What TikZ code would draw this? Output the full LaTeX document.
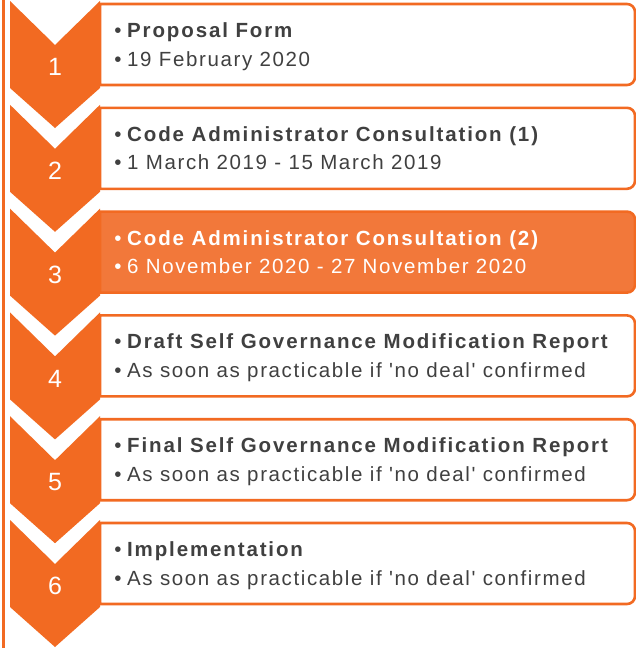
\documentclass[tikz,border=0pt]{standalone}
\usepackage{fontspec}
\setmainfont{Liberation Sans}
\newfontfamily\regfont[LetterSpace=7.9]{Liberation Sans}
\newfontfamily\boldfont[LetterSpace=9.1]{Liberation Sans Bold}
\definecolor{orng}{HTML}{F26A22}
\definecolor{orngl}{HTML}{F2783A}
\definecolor{txt}{HTML}{404040}
\tikzset{
  chev/.style={fill=orng, draw=none},
  stepbox/.style={draw=orng, line width=2.6pt, fill=white},
  stepboxhi/.style={draw=orng, line width=2.6pt, fill=orngl},
  num/.style={text=white, font=\fontsize{25}{28}\selectfont, inner sep=0pt},
  bul/.style={font=\fontsize{20.5}{24}\selectfont, inner sep=0pt, anchor=base},
  line1/.style={font=\fontsize{20.5}{24}\boldfont, inner sep=0pt, anchor=base west},
  line2/.style={font=\fontsize{20.5}{24}\regfont, inner sep=0pt, anchor=base west},
}
\newcommand{\q}{{\char"27}}
\newcommand{\mystep}[6]{%
  % #1 top y, #2 number, #3 line1, #4 line2, #5 box style, #6 text colour
  \path[chev] (10,#1) -- (55,#1+44) -- (100,#1) -- (100,#1+87) -- (55,#1+127) -- (10,#1+87) -- cycle;
  \path[#5] (100,#1+3) -- (627,#1+3) [rounded corners=8pt] -- (635,#1+3) -- (635,#1+84) [sharp corners] -- (627,#1+84) -- (100,#1+84) -- cycle;
  \node[num] (n#2) at (55,#1+66) {#2};
  \node[bul, text=#6] (b#2a) at (118,#1+36.5) {\textbullet};
  \node[line1, text=#6] (t#2a) at (127,#1+36.5) {#3};
  \node[bul, text=#6] (b#2b) at (118,#1+65) {\textbullet};
  \node[line2, text=#6] (t#2b) at (127,#1+65) {#4};
}
\begin{document}
\begin{tikzpicture}[x=1pt, y=-1pt]
\useasboundingbox (0,0) rectangle (636,648);
\fill[white] (0,0) rectangle (636,648);
\fill[orng] (1.7,0) rectangle (5,648);
\mystep{1}{1}{Proposal Form}{19 February 2020}{stepbox}{txt}
\mystep{104.8}{2}{Code Administrator Consultation (1)}{1 March 2019 - 15 March 2019}{stepbox}{txt}
\mystep{208.6}{3}{Code Administrator Consultation (2)}{6 November 2020 - 27 November 2020}{stepboxhi}{white}
\mystep{312.4}{4}{Draft Self Governance Modification Report}{As soon as practicable if \q no deal\q{} confirmed}{stepbox}{txt}
\mystep{416.2}{5}{Final Self Governance Modification Report}{As soon as practicable if \q no deal\q{} confirmed}{stepbox}{txt}
\mystep{520}{6}{Implementation}{As soon as practicable if \q no deal\q{} confirmed}{stepbox}{txt}
\end{tikzpicture}
\end{document}
